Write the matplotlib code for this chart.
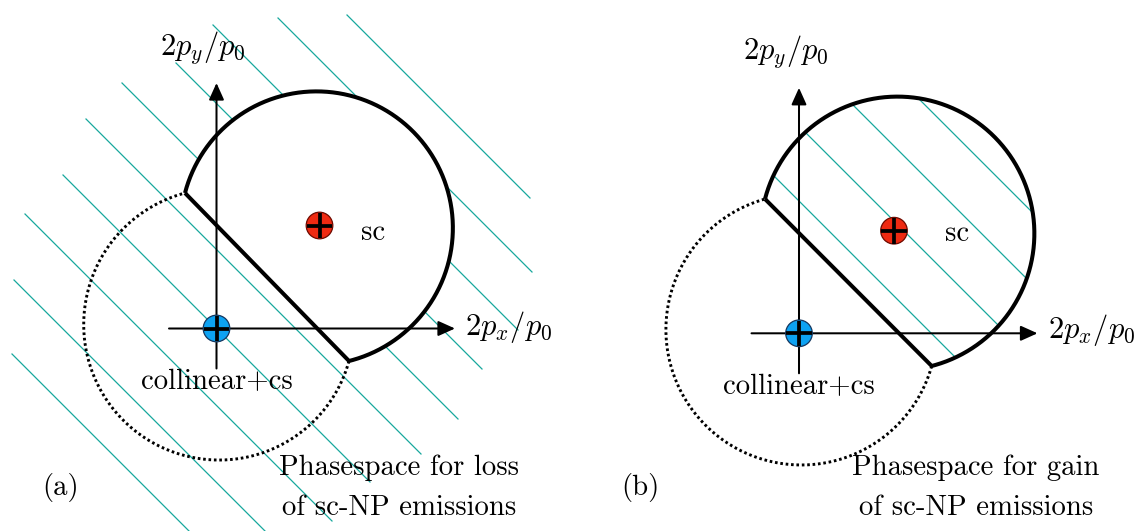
import numpy as np
import matplotlib
matplotlib.use("Agg")
import matplotlib.pyplot as plt
from matplotlib.patches import Circle, Polygon

plt.rcParams["mathtext.fontset"] = "cm"
TEXT_FONT = "cmr10"

# ---------------- diagram parameters (canvas pixel units, y downwards) ----------------
panel_ids = ["a", "b"]
origin = {"a": (216.5, 328.5), "b": (799.0, 333.3)}          # collinear+cs point
sc_point = {"a": (319.5, 225.5), "b": (894.0, 230.7)}        # sc point
solid_center = {"a": (316.0, 227.5), "b": (897.5, 233.5)}
dotted_center = {"a": (219.5, 325.0), "b": (801.4, 329.6)}
chord_upper = {"a": (185.0, 193.0), "b": (765.0, 199.0)}
chord_lower = {"a": (349.0, 361.0), "b": (931.7, 366.0)}
axis_x_span = (-47.5, 238.5)     # relative to origin
axis_y_span = (40.0, -245.5)     # relative to origin (negative = up)

# hatch lines: y - x = k
hatch_a_k = [-332, -260, -188, -113, -39, 33, 112, 189, 266, 342]
hatch_a_xstart = [347, 278, 213, 176, 122, 86, 63, 25, 14, 12]
hatch_a_xend = [530, 532, 518, 482, 458, 421, 370, 332, 275, 200]
hatch_b_k = [-598, -673, -748, -820]

labels_py = {"a": (203, 55), "b": (786, 59)}
labels_px = {"a": (465, 335), "b": (1048, 338.5)}
labels_sc = {"a": (361.5, 239.5), "b": (945, 240.7)}
labels_coll = {"a": (217, 389.5), "b": (798.5, 394.5)}
labels_panel = {"a": (42, 495, "(a)"), "b": (621, 495, "(b)")}
captions = {"a": (399, ["Phasespace for loss", "of sc-NP emissions"]),
            "b": (976, ["Phasespace for gain", "of sc-NP emissions"])}
caption_baselines = [475, 515]

TEAL = "#17a89d"
RED = "#ee2a12"
BLUE = "#0da2f2"
FS_TEXT = 20.7
FS_MATH = 22

fig = plt.figure(figsize=(11.34, 5.31), dpi=100)
ax = fig.add_axes([0, 0, 1, 1])
ax.set_xlim(0, 1134)
ax.set_ylim(531, 0)
ax.axis("off")


def arc(center, p_from, p_to, n=300):
    cx, cy = center
    a1 = np.arctan2(p_from[1] - cy, p_from[0] - cx)
    a2 = np.arctan2(p_to[1] - cy, p_to[0] - cx)
    if a2 <= a1:
        a2 += 2 * np.pi
    r1 = np.hypot(p_from[0] - cx, p_from[1] - cy)
    r2 = np.hypot(p_to[0] - cx, p_to[1] - cy)
    t = np.linspace(0, 1, n)
    ang = a1 + (a2 - a1) * t
    r = r1 + (r2 - r1) * t
    return cx + r * np.cos(ang), cy + r * np.sin(ang)


arrow_props = dict(arrowstyle="-|>,head_length=0.6,head_width=0.27", lw=1.45,
                   color="black", mutation_scale=17, shrinkA=0, shrinkB=0)

for pid in panel_ids:
    ox, oy = origin[pid]
    # solid shape: arc of sc circle + chord
    sx, sy = arc(solid_center[pid], chord_upper[pid], chord_lower[pid])
    shape_xy = np.column_stack([np.r_[sx, chord_upper[pid][0]], np.r_[sy, chord_upper[pid][1]]])

    if pid == "a":
        for k, x0, x1 in zip(hatch_a_k, hatch_a_xstart, hatch_a_xend):
            ax.plot([x0, x1], [x0 + k, x1 + k], color=TEAL, lw=0.9, zorder=1)
        ax.add_patch(Polygon(shape_xy, closed=True, facecolor="white", edgecolor="none", zorder=2))
    else:
        clip = Polygon(shape_xy, closed=True, facecolor="none", edgecolor="none", transform=ax.transData)
        ax.add_patch(clip)
        for k in hatch_b_k:
            ln, = ax.plot([600, 1134], [600 + k, 1134 + k], color=TEAL, lw=0.9, zorder=1)
            ln.set_clip_path(clip)

    # axes with arrows
    ax.annotate("", xy=(ox + axis_x_span[1], oy), xytext=(ox + axis_x_span[0], oy),
                arrowprops=arrow_props, zorder=3)
    ax.annotate("", xy=(ox, oy + axis_y_span[1]), xytext=(ox, oy + axis_y_span[0]),
                arrowprops=arrow_props, zorder=3)

    # solid boundary
    ax.plot(shape_xy[:, 0], shape_xy[:, 1], color="black", lw=2.9, zorder=4,
            solid_joinstyle="miter", solid_capstyle="butt")
    # dotted circle part
    dx, dy = arc(dotted_center[pid], chord_lower[pid], chord_upper[pid])
    ax.plot(dx, dy, color="black", lw=2.1, linestyle=(0, (0.9, 0.95)), zorder=4)

    # markers
    for (mx, my), col, ec in [((ox, oy), BLUE, "#15365e"), (sc_point[pid], RED, "#6e0a00")]:
        ax.add_patch(Circle((mx, my), 13.3, facecolor=col, edgecolor=ec, lw=0.9, zorder=5))
        ax.plot([mx - 12.8, mx + 12.8], [my, my], color="black", lw=2.7, zorder=6, solid_capstyle="butt")
        ax.plot([mx, mx], [my - 12.8, my + 12.8], color="black", lw=2.7, zorder=6, solid_capstyle="butt")

    # texts
    ax.text(*labels_py[pid], r"$2p_y/p_0$", fontsize=FS_MATH, ha="center", va="baseline", zorder=7)
    ax.text(*labels_px[pid], r"$2p_x/p_0$", fontsize=FS_MATH, ha="left", va="baseline", zorder=7)
    ax.text(*labels_sc[pid], "sc", fontsize=FS_TEXT, family=TEXT_FONT, ha="left", va="baseline", zorder=7)
    ax.text(*labels_coll[pid], "collinear+cs", fontsize=FS_TEXT, family=TEXT_FONT, ha="center",
            va="baseline", zorder=7)
    px, py, pl = labels_panel[pid]
    ax.text(px, py, pl, fontsize=FS_TEXT, family=TEXT_FONT, ha="left", va="baseline", zorder=7)
    cxp, lines = captions[pid]
    for line, yb in zip(lines, caption_baselines):
        ax.text(cxp, yb, line, fontsize=FS_TEXT, family=TEXT_FONT, ha="center", va="baseline", zorder=7)

fig.savefig("out.png", dpi=100, facecolor="white")
